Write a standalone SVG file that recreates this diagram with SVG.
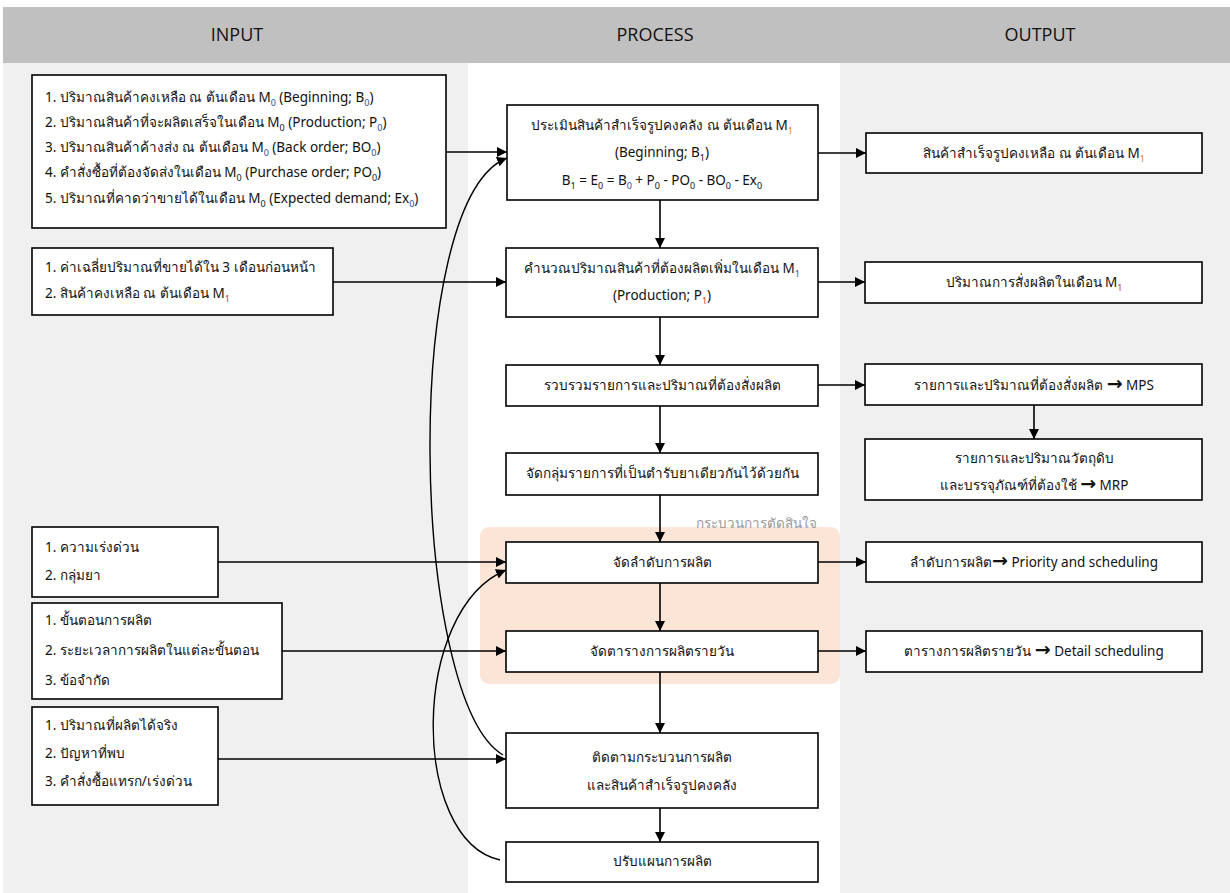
<svg xmlns="http://www.w3.org/2000/svg" width="1230" height="893" viewBox="0 0 1230 893">
<defs>
<marker id="ah" viewBox="0 0 10 10" refX="10" refY="5" markerWidth="10" markerHeight="10" markerUnits="userSpaceOnUse" orient="auto">
<path d="M0,0 L10,5 L0,10 z" fill="#000"/>
</marker>
<style>
.box{fill:#fff;stroke:#000;stroke-width:1.6}
.t{font-family:"Noto Sans","Liberation Sans",sans-serif;font-size:13.5px;fill:#111}
.c{text-anchor:middle}
.h{font-family:"Open Sans","Noto Sans",sans-serif;font-size:18px;fill:#111;text-anchor:middle}
.s{font-size:9px}
.ar{font-size:19px;font-weight:bold;font-family:"DejaVu Sans",sans-serif}
.ln{fill:none;stroke:#000;stroke-width:1.6;marker-end:url(#ah)}
.cv{fill:none;stroke:#000;stroke-width:1.4;marker-end:url(#ah)}
</style>
</defs>
<rect x="0" y="0" width="1230" height="893" fill="#fff"/>
<rect x="3" y="62" width="465" height="831" fill="#f0f0f0"/>
<rect x="840" y="62" width="390" height="831" fill="#f0f0f0"/>
<rect x="3" y="7" width="1227" height="56" fill="#c0c0c0"/>
<g id="headers">
<text class="h" x="237" y="41">INPUT</text>
<text class="h" x="655" y="41">PROCESS</text>
<text class="h" x="1040" y="41">OUTPUT</text>
</g>
<g id="decision-region">
<rect x="480" y="527" width="360" height="157" rx="9" fill="#fae5d7"/>
<text x="817" y="528" font-family="Noto Sans, Liberation Sans, sans-serif" font-size="13.5" fill="#9a9a9a" text-anchor="end">กระบวนการตัดสินใจ</text>
</g>
<g id="connectors">
<line class="ln" x1="446" y1="152" x2="507" y2="152"/>
<line class="ln" x1="818" y1="153" x2="866" y2="153"/>
<line class="ln" x1="660" y1="200" x2="660" y2="248"/>
<line class="ln" x1="333" y1="282" x2="506" y2="282"/>
<line class="ln" x1="818" y1="282" x2="865" y2="282"/>
<line class="ln" x1="660" y1="317" x2="660" y2="365"/>
<line class="ln" x1="818" y1="385" x2="865" y2="385"/>
<line class="ln" x1="1034" y1="405" x2="1034" y2="439"/>
<line class="ln" x1="660" y1="406" x2="660" y2="453"/>
<line class="ln" x1="660" y1="495" x2="660" y2="542"/>
<line class="ln" x1="218" y1="562" x2="506" y2="562"/>
<line class="ln" x1="818" y1="562" x2="866" y2="562"/>
<line class="ln" x1="660" y1="583" x2="660" y2="631"/>
<line class="ln" x1="282" y1="651" x2="506" y2="651"/>
<line class="ln" x1="818" y1="651" x2="866" y2="651"/>
<line class="ln" x1="660" y1="672" x2="660" y2="733"/>
<line class="ln" x1="218" y1="759" x2="506" y2="759"/>
<line class="ln" x1="660" y1="808" x2="660" y2="842"/>
<path class="cv" d="M503,755 C410,700 400,200 507,158"/>
<path class="cv" d="M500,860 C410,840 410,610 506,570"/>
</g>
<g id="in1">
<rect class="box" x="32" y="75" width="414" height="153"/>
<text class="t" x="45" y="102">1. ปริมาณสินค้าคงเหลือ ณ ต้นเดือน M<tspan class="s" dy="4" fill="#2a4f9a">0</tspan><tspan dy="-4"> (Beginning; B</tspan><tspan class="s" dy="4" fill="#2a4f9a">0</tspan><tspan dy="-4">)</tspan></text>
<text class="t" x="45" y="127">2. ปริมาณสินค้าที่จะผลิตเสร็จในเดือน M<tspan class="s" dy="4">0</tspan><tspan dy="-4"> (Production; P</tspan><tspan class="s" dy="4" fill="#2a4f9a">0</tspan><tspan dy="-4">)</tspan></text>
<text class="t" x="45" y="152">3. ปริมาณสินค้าค้างส่ง ณ ต้นเดือน M<tspan class="s" dy="4" fill="#2a4f9a">0</tspan><tspan dy="-4"> (Back order; BO</tspan><tspan class="s" dy="4" fill="#2a4f9a">0</tspan><tspan dy="-4">)</tspan></text>
<text class="t" x="45" y="177">4. คำสั่งซื้อที่ต้องจัดส่งในเดือน M<tspan class="s" dy="4">0</tspan><tspan dy="-4"> (Purchase order; PO</tspan><tspan class="s" dy="4">0</tspan><tspan dy="-4">)</tspan></text>
<text class="t" x="45" y="203">5. ปริมาณที่คาดว่าขายได้ในเดือน M<tspan class="s" dy="4">0</tspan><tspan dy="-4"> (Expected demand; Ex</tspan><tspan class="s" dy="4" fill="#2a4f9a">0</tspan><tspan dy="-4">)</tspan></text>
</g>
<g id="in2">
<rect class="box" x="32" y="248" width="301" height="67"/>
<text class="t" x="45" y="272">1. ค่าเฉลี่ยปริมาณที่ขายได้ใน 3 เดือนก่อนหน้า</text>
<text class="t" x="45" y="298">2. สินค้าคงเหลือ ณ ต้นเดือน M<tspan class="s" dy="4" fill="#c0392b">1</tspan></text>
</g>
<g id="in3">
<rect class="box" x="32" y="527" width="186" height="70"/>
<text class="t" x="45" y="552">1. ความเร่งด่วน</text>
<text class="t" x="45" y="580">2. กลุ่มยา</text>
</g>
<g id="in4">
<rect class="box" x="32" y="603" width="250" height="96"/>
<text class="t" x="45" y="625">1. ขั้นตอนการผลิต</text>
<text class="t" x="45" y="655">2. ระยะเวลาการผลิตในแต่ละขั้นตอน</text>
<text class="t" x="45" y="685">3. ข้อจำกัด</text>
</g>
<g id="in5">
<rect class="box" x="32" y="707" width="186" height="98"/>
<text class="t" x="45" y="730">1. ปริมาณที่ผลิตได้จริง</text>
<text class="t" x="45" y="758">2. ปัญหาที่พบ</text>
<text class="t" x="45" y="786">3. คำสั่งซื้อแทรก/เร่งด่วน</text>
</g>
<g id="p1">
<rect class="box" x="507" y="105" width="311" height="95"/>
<text class="t c" x="662" y="130">ประเมินสินค้าสำเร็จรูปคงคลัง ณ ต้นเดือน M<tspan class="s" dy="4" fill="#c08a30">1</tspan></text>
<text class="t c" x="662" y="157">(Beginning; B<tspan class="s" dy="4">1</tspan><tspan dy="-4">)</tspan></text>
<text class="t c" x="662" y="185">B<tspan class="s" dy="4">1</tspan><tspan dy="-4"> = E</tspan><tspan class="s" dy="4">0</tspan><tspan dy="-4"> = B</tspan><tspan class="s" dy="4" fill="#2a4f9a">0</tspan><tspan dy="-4"> + P</tspan><tspan class="s" dy="4">0</tspan><tspan dy="-4"> - PO</tspan><tspan class="s" dy="4">0</tspan><tspan dy="-4"> - BO</tspan><tspan class="s" dy="4">0</tspan><tspan dy="-4"> - Ex</tspan><tspan class="s" dy="4">0</tspan></text>
</g>
<g id="p2">
<rect class="box" x="506" y="248" width="312" height="69"/>
<text class="t c" x="662" y="273">คำนวณปริมาณสินค้าที่ต้องผลิตเพิ่มในเดือน M<tspan class="s" dy="4" fill="#2a4f9a">1</tspan></text>
<text class="t c" x="662" y="300">(Production; P<tspan class="s" dy="4" fill="#c0392b">1</tspan><tspan dy="-4">)</tspan></text>
</g>
<g id="p3">
<rect class="box" x="506" y="365" width="312" height="41"/>
<text class="t c" x="662" y="390">รวบรวมรายการและปริมาณที่ต้องสั่งผลิต</text>
</g>
<g id="p4">
<rect class="box" x="506" y="453" width="312" height="42"/>
<text class="t c" x="662" y="478">จัดกลุ่มรายการที่เป็นตำรับยาเดียวกันไว้ด้วยกัน</text>
</g>
<g id="p5">
<rect class="box" x="506" y="542" width="312" height="41"/>
<text class="t c" x="662" y="567">จัดลำดับการผลิต</text>
</g>
<g id="p6">
<rect class="box" x="506" y="631" width="312" height="41"/>
<text class="t c" x="662" y="656">จัดตารางการผลิตรายวัน</text>
</g>
<g id="p7">
<rect class="box" x="506" y="733" width="312" height="75"/>
<text class="t c" x="662" y="762">ติดตามกระบวนการผลิต</text>
<text class="t c" x="662" y="790">และสินค้าสำเร็จรูปคงคลัง</text>
</g>
<g id="p8">
<rect class="box" x="506" y="842" width="312" height="40"/>
<text class="t c" x="662" y="866">ปรับแผนการผลิต</text>
</g>
<g id="o1">
<rect class="box" x="866" y="133" width="336" height="40"/>
<text class="t c" x="1034" y="158">สินค้าสำเร็จรูปคงเหลือ ณ ต้นเดือน M<tspan class="s" dy="4" fill="#c08a30">1</tspan></text>
</g>
<g id="o2">
<rect class="box" x="865" y="262" width="337" height="41"/>
<text class="t c" x="1034" y="287">ปริมาณการสั่งผลิตในเดือน M<tspan class="s" dy="4" fill="#c0392b">1</tspan></text>
</g>
<g id="o3">
<rect class="box" x="865" y="364" width="337" height="41"/>
<text class="t c" x="1034" y="390">รายการและปริมาณที่ต้องสั่งผลิต <tspan class="ar">→</tspan> MPS</text>
</g>
<g id="o4">
<rect class="box" x="865" y="439" width="337" height="61"/>
<text class="t c" x="1034" y="463">รายการและปริมาณวัตถุดิบ</text>
<text class="t c" x="1034" y="490">และบรรจุภัณฑ์ที่ต้องใช้ <tspan class="ar">→</tspan> MRP</text>
</g>
<g id="o5">
<rect class="box" x="866" y="542" width="336" height="40"/>
<text class="t c" x="1034" y="567">ลำดับการผลิต<tspan class="ar">→</tspan> Priority and scheduling</text>
</g>
<g id="o6">
<rect class="box" x="866" y="631" width="336" height="41"/>
<text class="t c" x="1034" y="656">ตารางการผลิตรายวัน <tspan class="ar">→</tspan> Detail scheduling</text>
</g>
</svg>
